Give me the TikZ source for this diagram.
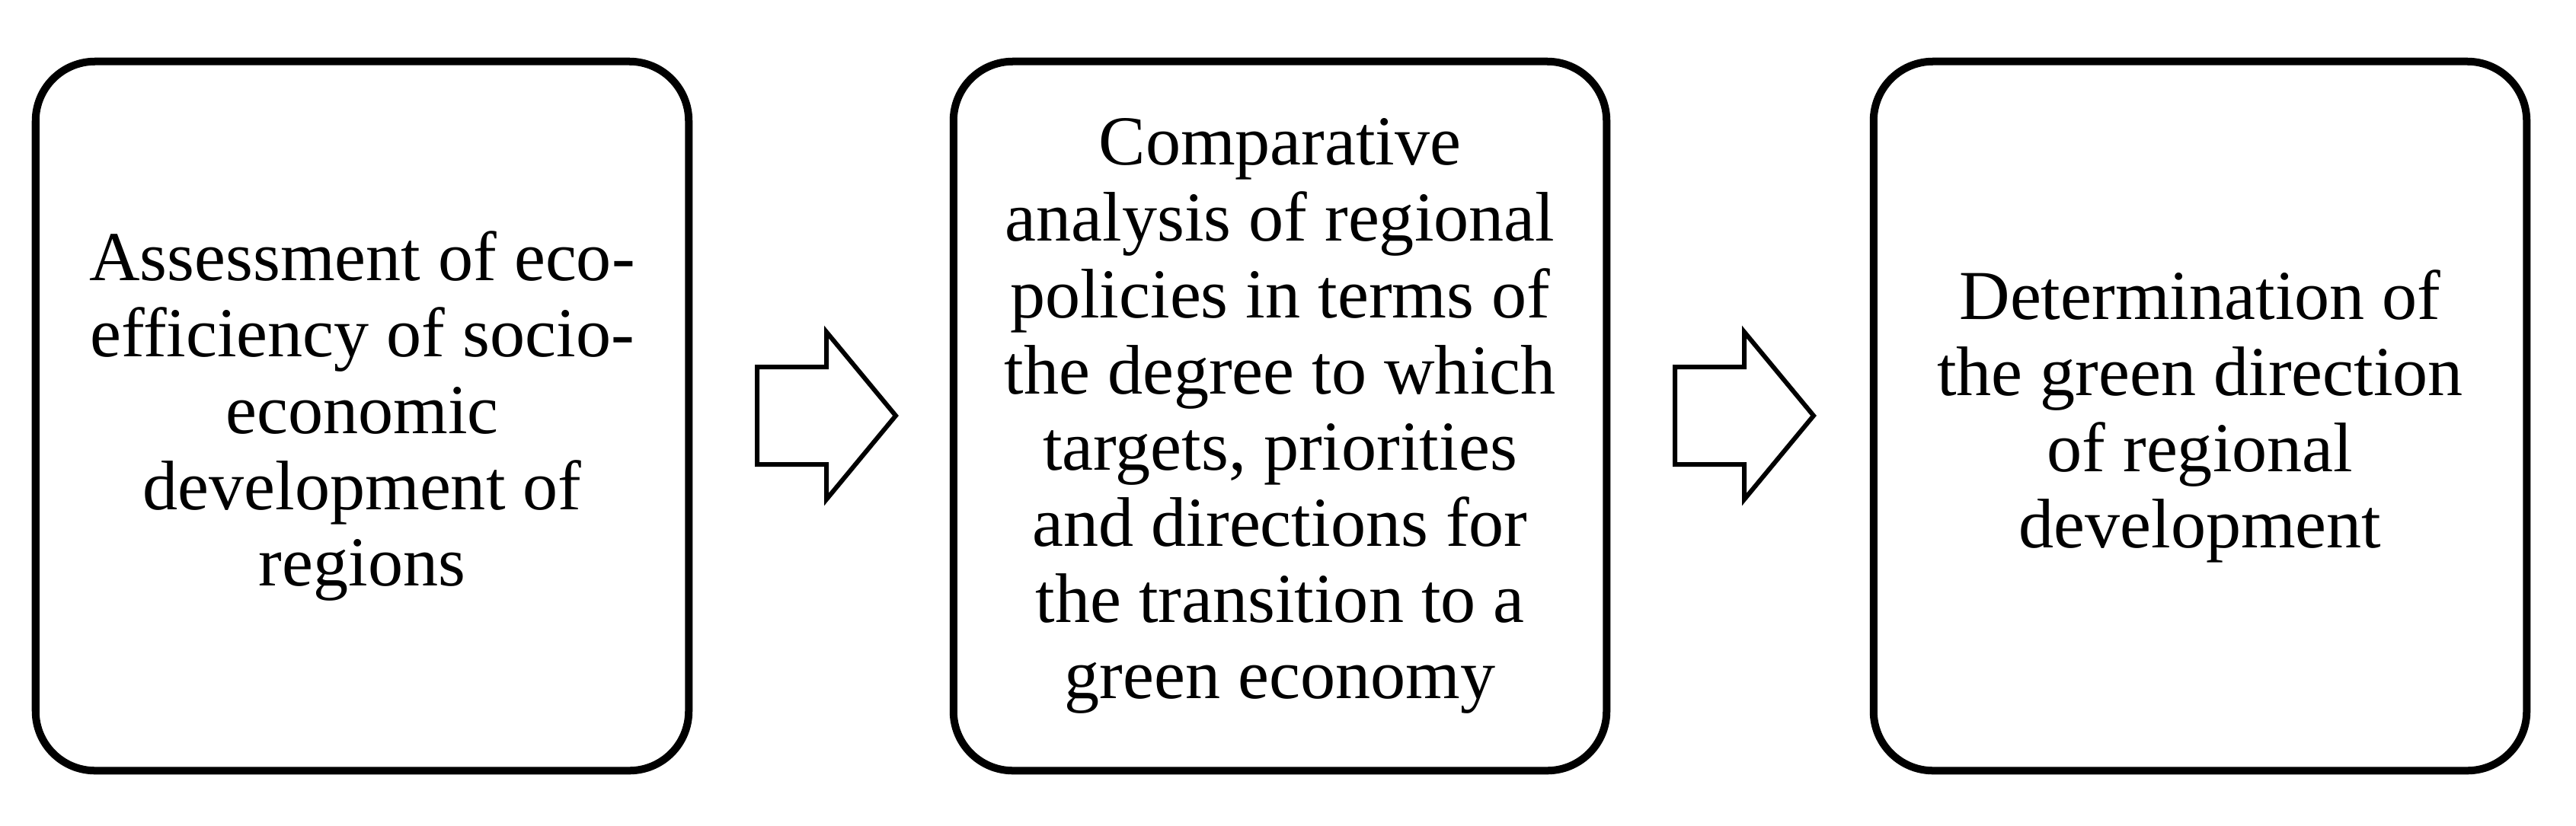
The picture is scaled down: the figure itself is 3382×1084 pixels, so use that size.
\documentclass[tikz,border=0pt]{standalone}
\usepackage{fontspec}
\setmainfont{Liberation Serif}
\tikzset{
  stagebox/.style={draw=black, line width=0.1cm, rounded corners=0.78cm,
    minimum width=8.57cm, minimum height=9.31cm, inner sep=0pt, align=center,
    font=\fontsize{26.2}{28.45}\selectfont},
  blockarrow/.pic={
    \draw[line width=0.06cm, line join=miter] (0,-64) -- (91,-64) -- (91,-110) -- (182,0)
      -- (91,110) -- (91,64) -- (0,64) -- cycle;
  }
}
\begin{document}
\begin{tikzpicture}[x=0.01cm, y=-0.01cm]
\useasboundingbox (0,0) rectangle (3382,1084);
\node[stagebox] (b1) at (475.5,546.5) {Assessment of eco-\\efficiency of socio-\\economic\\development of\\regions};
\node[stagebox] (b2) at (1680.5,546.5) {Comparative\\analysis of regional\\policies in terms of\\the degree to which\\targets, priorities\\and directions for\\the transition to a\\green economy};
\node[stagebox] (b3) at (2888.5,546.5) {Determination of\\the green direction\\of regional\\development};
\pic (a1) at (994,546) {blockarrow};
\pic (a2) at (2199,546) {blockarrow};
\end{tikzpicture}
\end{document}
